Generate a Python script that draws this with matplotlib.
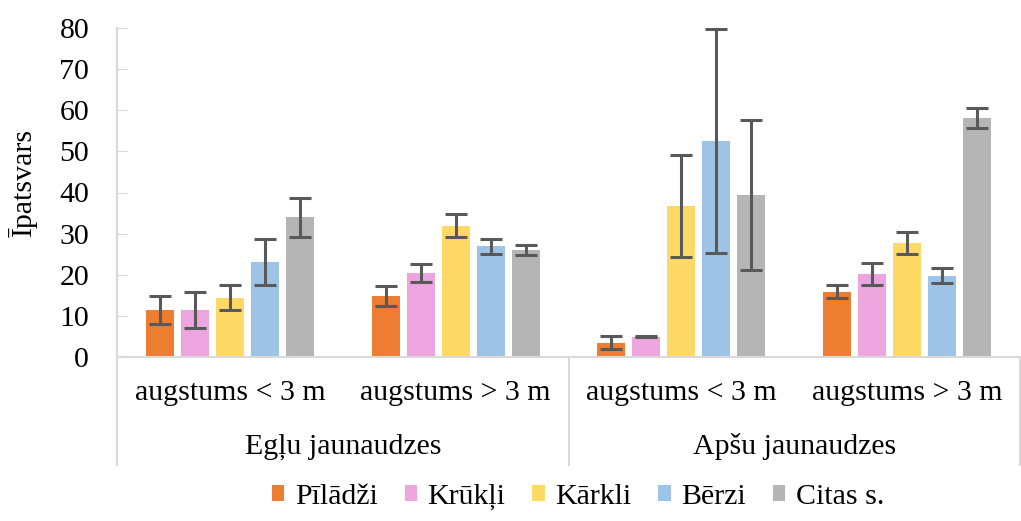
import matplotlib
matplotlib.use("Agg")
import matplotlib.pyplot as plt
import matplotlib.transforms as mtransforms
import numpy as np
from matplotlib.lines import Line2D

plt.rcParams['font.family'] = ['Liberation Serif', 'DejaVu Serif']

subcats = ["augstums < 3 m", "augstums > 3 m", "augstums < 3 m", "augstums > 3 m"]
groups = ["Egļu jaunaudzes", "Apšu jaunaudzes"]
series = ["Pīlādži", "Krūkļi", "Kārkli", "Bērzi", "Citas s."]
colors = ["#ED7D31", "#EDA5DF", "#FFD966", "#9DC3E6", "#B5B5B5"]

values = {
    "Pīlādži":  [11.5, 14.8, 3.5, 15.9],
    "Krūkļi":   [11.4, 20.4, 4.9, 20.1],
    "Kārkli":   [14.4, 31.9, 36.7, 27.8],
    "Bērzi":    [23.1, 26.9, 52.5, 19.8],
    "Citas s.": [34.0, 26.0, 39.4, 58.1],
}
errors = {
    "Pīlādži":  [3.4, 2.4, 1.5, 1.5],
    "Krūkļi":   [4.4, 2.2, 0.15, 2.7],
    "Kārkli":   [3.0, 2.8, 12.3, 2.7],
    "Bērzi":    [5.6, 1.8, 27.3, 1.8],
    "Citas s.": [4.7, 1.3, 18.3, 2.4],
}

FS = 21.5
W, H = 1021, 521
fig = plt.figure(figsize=(W / 100, H / 100), dpi=100)
left, right, top, bottom = 117, 1020, 28, 357
ax = fig.add_axes([left / W, 1 - bottom / H, (right - left) / W, (bottom - top) / H])

x = np.arange(len(subcats))
spacing = 0.155
bw = 0.124
for i, s in enumerate(series):
    off = (i - 2) * spacing
    ax.bar(x + off, values[s], width=bw, color=colors[i], label=s, zorder=2)
    ax.errorbar(x + off, values[s], yerr=errors[s], fmt='none', ecolor='#595959',
                elinewidth=2.2, capsize=8, capthick=2.2, zorder=3)

ax.set_xlim(-0.5, 3.5)
ax.set_ylim(0, 80)
ax.set_yticks(range(0, 81, 10))
ax.tick_params(axis='y', direction='in', length=7, color='#D9D9D9', labelsize=FS, pad=20)
ax.tick_params(axis='x', bottom=False, labelbottom=False)
for sp in ['top', 'right']:
    ax.spines[sp].set_visible(False)
for sp in ['left', 'bottom']:
    ax.spines[sp].set_color('#D9D9D9')
    ax.spines[sp].set_linewidth(1.5)


def fy(py):
    return 1 - py / H


fig.text(23 / W, fy(183), "Īpatsvars", rotation=90, ha='center', va='center', fontsize=FS)

blend = mtransforms.blended_transform_factory(ax.transData, fig.transFigure)
for i, c in enumerate(subcats):
    ax.text(i, fy(393), c, transform=blend, ha='center', va='center', fontsize=FS)
for gi, g in enumerate(groups):
    ax.text(gi * 2 + 0.5, fy(447), g, transform=blend, ha='center', va='center', fontsize=FS)
for xs in [-0.5, 1.5, 3.5]:
    fig.add_artist(Line2D([xs, xs], [fy(357), fy(465)], transform=blend,
                          color='#D9D9D9', linewidth=1.5))

leg = fig.legend(loc='center', bbox_to_anchor=(578 / W, fy(497)), ncol=5, frameon=False,
                 fontsize=FS, handlelength=0.42, handleheight=0.42, handletextpad=0.35,
                 columnspacing=0.9, borderpad=0)

fig.savefig("out.png", dpi=100)
